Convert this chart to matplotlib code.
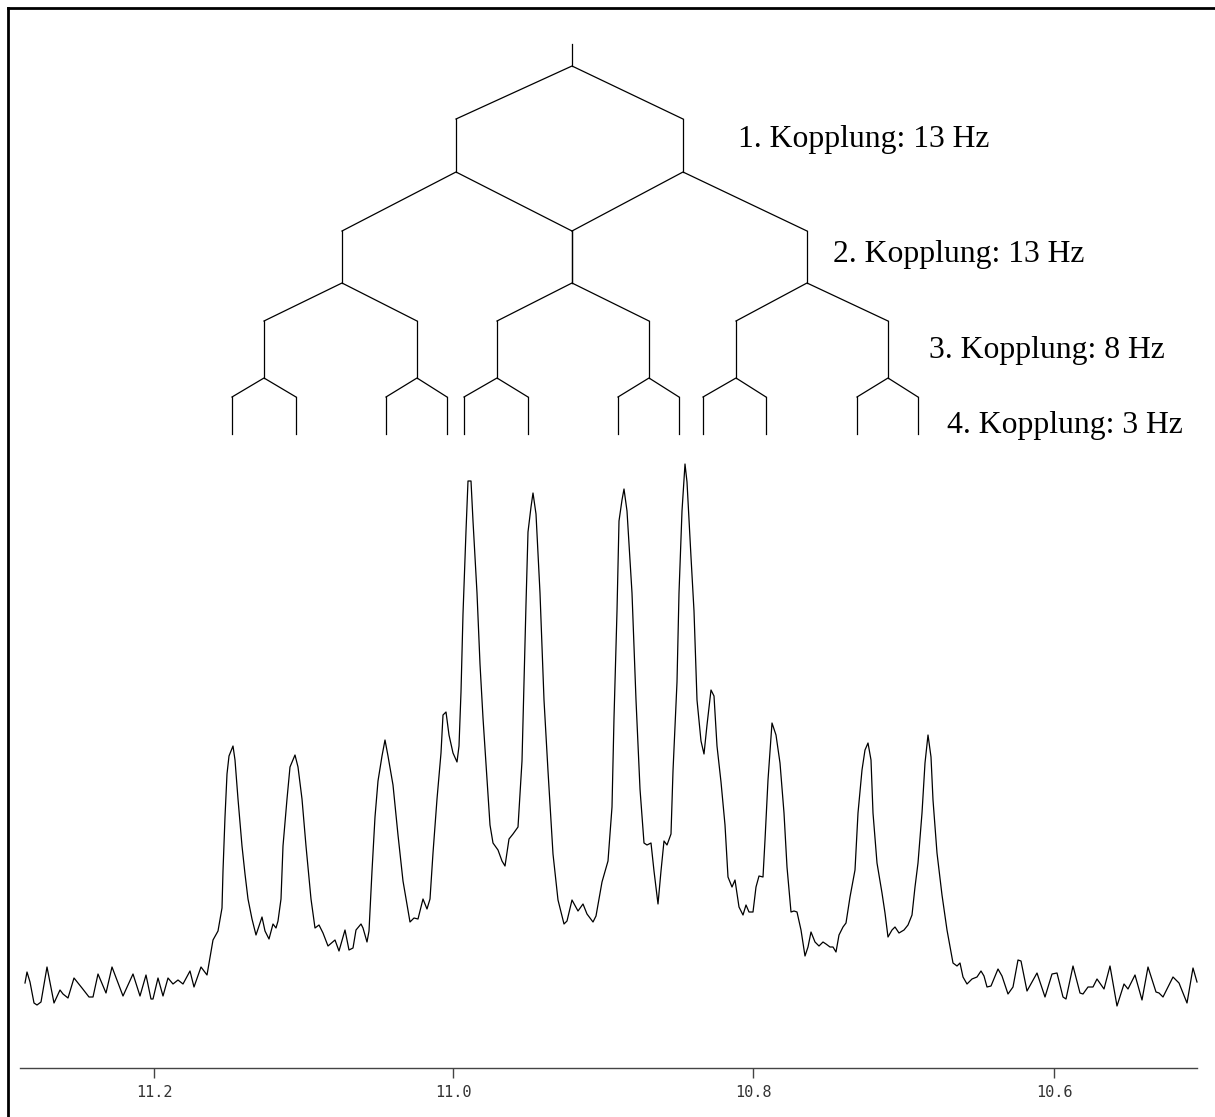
import matplotlib
matplotlib.use("Agg")
import matplotlib.pyplot as plt

# spectrum trace (channel = horizontal position, intensity = arbitrary units)
channel = [25, 27, 30, 34, 37, 41, 47, 54, 60, 63, 68, 74, 82, 89, 93, 98, 106, 112, 123, 133,
           140, 146, 151, 153, 158, 163, 168, 173, 178, 183, 190, 194, 201, 207,
           213, 218, 222, 223, 225, 227, 229, 233, 235, 238, 242, 245, 248, 252, 256, 262,
           265, 269, 273, 276, 278, 281, 283, 287, 290, 295, 298, 302, 306, 311, 315, 319,
           323, 328, 335, 339, 345, 349, 353, 356, 361, 363, 367, 369, 372, 375, 378, 382,
           385, 388, 393, 398, 403, 410, 414, 418, 423, 427, 430, 433, 437, 441, 443, 446,
           449, 453, 457, 459, 461, 463, 466, 468, 471,
           473, 477, 480, 483, 487, 490, 493, 498, 502, 505, 509, 513, 518, 522, 524, 526,
           528, 531, 533, 536, 540, 544, 548, 553, 558, 564, 567, 572, 578, 583, 587, 593,
           596, 602, 608, 612, 614, 617, 619, 622, 624, 627, 632, 636, 640, 644, 647, 651,
           654, 658, 661, 664, 667, 671, 673, 677, 679, 682, 684, 685, 687, 691, 694, 697,
           701, 704, 707, 711, 714, 717, 721, 725,
           728, 732, 735, 739, 743, 746, 749, 753, 756, 759, 763, 765, 768, 772, 776, 780,
           784, 787, 791, 794, 797, 801, 805, 808, 811, 815, 819, 823, 826, 830, 833, 836,
           839, 843, 846, 850, 855, 858, 862, 865, 868, 871, 873, 877, 882, 885, 888, 892,
           895, 899, 904, 908, 912, 915, 918, 922, 925, 928, 931, 933, 937, 942, 947, 953,
           957, 960, 963, 967, 972, 977,
           981, 984, 987, 991, 998, 1002, 1008, 1013, 1018, 1021, 1027, 1037, 1045, 1052,
           1057, 1063, 1066, 1073, 1080, 1083, 1088, 1093, 1097, 1104, 1110, 1117, 1124,
           1128, 1135, 1142, 1148, 1156, 1159, 1163, 1173, 1179, 1187, 1193, 1197]
intensity = [17, 28, 18, -3, -5, -2, 33, -3, 10, 6, 2, 22, 12, 3, 3, 26, 7, 33, 4, 26,
             4, 25, 1, 1, 22, 4, 22, 16, 20, 16, 29, 13, 33, 25,
             60, 69, 92, 129, 183, 226, 244, 254, 240, 201, 154, 126, 101, 81, 65, 83,
             69, 61, 76, 72, 79, 101, 154, 201, 233, 245, 233, 201, 154, 101, 72, 75,
             67, 54, 60, 49, 70, 50, 52, 70, 76, 72, 58, 69, 129, 183, 219, 244,
             260, 244, 215, 165, 119, 78, 82, 81, 101, 91, 101, 147, 201, 247, 285, 288,
             265, 247, 238, 254, 308, 386, 469, 519, 519,
             479, 407, 336, 282, 221, 175, 157, 150, 139, 134, 161, 166, 173, 239, 318, 396,
             468, 493, 507, 486, 407, 300, 229, 146, 100, 76, 79, 100, 89, 96, 86, 78,
             84, 118, 139, 193, 282, 389, 479, 500, 511, 489, 407, 300, 211, 157, 155, 157,
             129, 96, 129, 159, 155, 166, 229, 318, 407, 489, 521, 536, 518, 443, 389, 300,
             259, 246, 275, 310, 304, 254, 218, 175,
             123, 113, 120, 93, 85, 95, 88, 88, 113, 124, 123, 160, 220, 277, 265, 237,
             187, 133, 88, 89, 88, 70, 44, 53, 68, 58, 54, 58, 56, 53, 53, 48,
             65, 73, 77, 103, 130, 187, 230, 250, 257, 240, 187, 137, 107, 87, 63, 70,
             73, 67, 70, 75, 85, 113, 137, 187, 237, 265, 243, 200, 147, 105, 70, 37,
             34, 37, 23, 16, 21, 23,
             29, 24, 13, 14, 31, 24, 6, 13, 40, 39, 9, 27, 3, 26,
             27, 3, 1, 34, 7, 6, 13, 13, 21, 11, 34, -6, 16,
             11, 25, 0, 33, 8, 7, 3, 23, 17, -3, 32, 18]

# chemical shift scale
tick_channel = [154, 453, 753, 1054]
tick_labels = ["11.2", "11.0", "10.8", "10.6"]

# splitting tree: node positions per level and the (left, right) split of each parent
tree_parents = [[572], [456, 683], [342, 572, 807], [264, 417, 497, 649, 736, 888]]
tree_splits = [
    [(456, 683)],
    [(342, 572), (572, 807)],
    [(264, 417), (497, 649), (736, 888)],
    [(232, 296), (386, 447), (464, 528), (618, 679), (703, 766), (857, 918)],
]
coupling_labels = ["1. Kopplung: 13 Hz", "2. Kopplung: 13 Hz",
                   "3. Kopplung: 8 Hz", "4. Kopplung: 3 Hz"]

# vertical layout of the tree (node height, end of diagonal, end of vertical)
tree_rows = [(934, 881, 828), (828, 769, 717), (717, 679, 622), (622, 603, 566)]
label_pos = [(738, 853), (833, 738), (929, 642), (947, 567)]

fig = plt.figure(figsize=(12.15, 11.17), dpi=100)
ax = fig.add_axes([8 / 1215, 0, 1 - 8 / 1215, 1 - 8 / 1117])
ax.set_xlim(8, 1215)
ax.set_ylim(-117, 992)

ax.plot(channel, intensity, color="black", lw=0.9)

# tree: top stem, then each parent splits into a left and right branch
ax.plot([572, 572], [956, 934], color="black", lw=0.9)
for k, splits in enumerate(tree_splits):
    y0, y1, y2 = tree_rows[k]
    parents = tree_parents[k]
    if len(parents) != len(splits):
        parents = parents * len(splits)
    for p, (left, right) in zip(parents, splits):
        ax.plot([left, p, right], [y1, y0, y1], color="black", lw=0.9)
        ax.plot([left, left], [y1, y2], color="black", lw=0.9)
        ax.plot([right, right], [y1, y2], color="black", lw=0.9)

for text, (x, y) in zip(coupling_labels, label_pos):
    ax.text(x, y, text, family="Liberation Serif", fontsize=22.8, va="baseline", ha="left")

# frame and axis
for side in ["left", "top"]:
    ax.spines[side].set_linewidth(2)
    ax.spines[side].set_color("black")
ax.spines["right"].set_visible(False)
ax.spines["bottom"].set_position(("data", -68))
ax.spines["bottom"].set_bounds(20, 1197)
ax.spines["bottom"].set_color("#444444")
ax.spines["bottom"].set_linewidth(1)

ax.set_xticks(tick_channel)
ax.set_xticklabels(tick_labels, family="DejaVu Sans Mono", fontsize=11, color="#333333")
ax.tick_params(axis="x", direction="out", length=7.2, width=1, color="#444444", pad=5)
ax.set_yticks([])

fig.savefig("out.png", dpi=100)
